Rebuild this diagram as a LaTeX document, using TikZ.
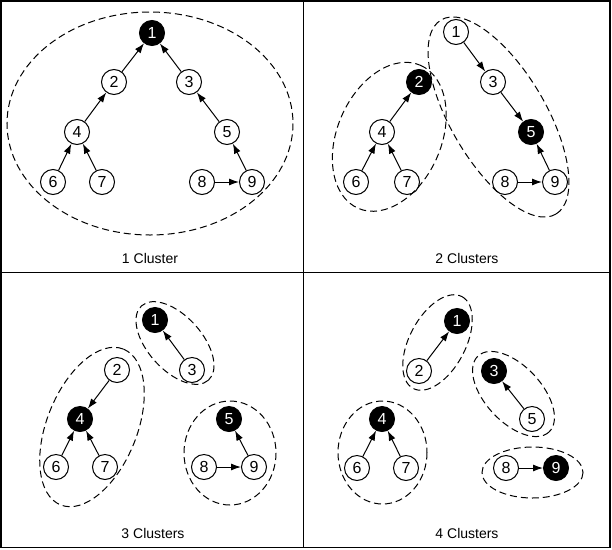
\documentclass[tikz,border=0pt]{standalone}
\usepackage{fontspec}
\setmainfont{Liberation Sans}
\usetikzlibrary{arrows.meta}

\tikzset{
  noeud/.style={draw, circle, minimum size=25pt, inner sep=0pt, line width=1pt, font=\fontsize{16}{16}\selectfont},
  chef/.style={noeud, fill=black, text=white},
  grappe/.style={line width=1pt, dash pattern=on 7pt off 4pt},
  fleche/.style={->, line width=1pt},
  titre/.style={font=\fontsize{14}{14}\selectfont}
}

\begin{document}
\begin{tikzpicture}[x=1pt, y=-1pt, >={Latex[length=10pt,width=7pt]}]

\useasboundingbox (0,0) rectangle (612,549);

% Cadre
\draw[line width=1.3pt] (1,1) rectangle (610,547.5);
\draw[line width=1.3pt] (303.5,1) -- (303.5,547.5);
\draw[line width=1.3pt] (1,272.5) -- (610,272.5);

% 1 Cluster
\node[chef] (A1) at (152,33) {1};
\node[noeud] (A2) at (114,82) {2};
\node[noeud] (A3) at (189,82) {3};
\node[noeud] (A4) at (77,132) {4};
\node[noeud] (A5) at (227,132) {5};
\node[noeud] (A6) at (53,182) {6};
\node[noeud] (A7) at (102,182) {7};
\node[noeud] (A8) at (202,182) {8};
\node[noeud] (A9) at (252,182) {9};
\draw[grappe] (150,123.5) ellipse [x radius=143, y radius=111.5];
\node[titre] (tA) at (150,258) {1 Cluster};

\draw[fleche] (A2) -- (A1);
\draw[fleche] (A3) -- (A1);
\draw[fleche] (A4) -- (A2);
\draw[fleche] (A5) -- (A3);
\draw[fleche] (A6) -- (A4);
\draw[fleche] (A7) -- (A4);
\draw[fleche] (A9) -- (A5);
\draw[fleche] (A8) -- (A9);

% 2 Clusters
\node[noeud] (B1) at (456,32) {1};
\node[chef] (B2) at (419,82) {2};
\node[noeud] (B3) at (493,82) {3};
\node[noeud] (B4) at (382,132) {4};
\node[chef] (B5) at (531,132) {5};
\node[noeud] (B6) at (356,182) {6};
\node[noeud] (B7) at (407,182) {7};
\node[noeud] (B8) at (505,182) {8};
\node[noeud] (B9) at (555,182) {9};
\draw[grappe, rotate around={66.5:(389.3,136.8)}] (389.3,136.8) ellipse [x radius=78, y radius=52];
\draw[grappe, rotate around={-59.4:(498.5,117)}] (498.5,117) ellipse [x radius=112.8, y radius=47.4];
\node[titre] (tB) at (467,258) {2 Clusters};

\draw[fleche] (B4) -- (B2);
\draw[fleche] (B6) -- (B4);
\draw[fleche] (B7) -- (B4);
\draw[fleche] (B1) -- (B3);
\draw[fleche] (B3) -- (B5);
\draw[fleche] (B9) -- (B5);
\draw[fleche] (B8) -- (B9);

% 3 Clusters
\node[chef] (C1) at (155,320) {1};
\node[noeud] (C2) at (117,370) {2};
\node[noeud] (C3) at (192,370) {3};
\node[chef] (C4) at (80,419) {4};
\node[chef] (C5) at (229,419) {5};
\node[noeud] (C6) at (56,467) {6};
\node[noeud] (C7) at (105,467) {7};
\node[noeud] (C8) at (204,467) {8};
\node[noeud] (C9) at (254,467) {9};
\draw[grappe, rotate around={-48:(175,343)}] (175,343) ellipse [x radius=50, y radius=27];
\draw[grappe, rotate around={68:(92,427)}] (92,427) ellipse [x radius=84, y radius=45];
\draw[grappe] (230,453) ellipse [x radius=46, y radius=52];
\node[titre] (tC) at (153,533) {3 Clusters};

\draw[fleche] (C3) -- (C1);
\draw[fleche] (C2) -- (C4);
\draw[fleche] (C6) -- (C4);
\draw[fleche] (C7) -- (C4);
\draw[fleche] (C9) -- (C5);
\draw[fleche] (C8) -- (C9);

% 4 Clusters
\node[chef] (D1) at (457,321) {1};
\node[noeud] (D2) at (419,371) {2};
\node[chef] (D3) at (494,371) {3};
\node[chef] (D4) at (382,419) {4};
\node[noeud] (D5) at (532,419) {5};
\node[noeud] (D6) at (357,468) {6};
\node[noeud] (D7) at (406,468) {7};
\node[noeud] (D8) at (506,468) {8};
\node[chef] (D9) at (556,468) {9};
\draw[grappe, rotate around={62:(437.5,342.5)}] (437.5,342.5) ellipse [x radius=52, y radius=28];
\draw[grappe, rotate around={-47:(513.5,394)}] (513.5,394) ellipse [x radius=52, y radius=28];
\draw[grappe] (382.5,452.5) ellipse [x radius=44.5, y radius=51.5];
\draw[grappe] (532.5,472.5) ellipse [x radius=50.5, y radius=25.5];
\node[titre] (tD) at (467,533) {4 Clusters};

\draw[fleche] (D2) -- (D1);
\draw[fleche] (D5) -- (D3);
\draw[fleche] (D6) -- (D4);
\draw[fleche] (D7) -- (D4);
\draw[fleche] (D8) -- (D9);

\end{tikzpicture}
\end{document}
